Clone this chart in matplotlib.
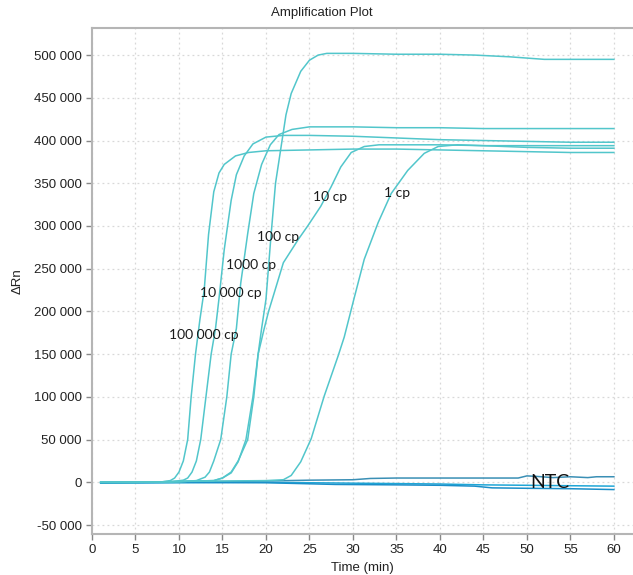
import matplotlib.pyplot as plt
from matplotlib.ticker import FuncFormatter, MultipleLocator

# amplification curves (time in min, delta Rn)
t_100000 = [1, 5, 8, 9, 9.5, 10, 10.5, 11, 11.4, 11.9, 12.4, 12.9, 13.4, 14.0, 14.6, 15.2, 16.5, 18, 20, 25, 30, 35, 40, 45, 50, 55, 60]
rn_100000 = [0, 0, 500, 2000, 5000, 12000, 25000, 50000, 100000, 150000, 190000, 225000, 290000, 340000, 362000, 372000, 382000, 386000, 388000, 389000, 390000, 390000, 389000, 388000, 387000, 386000, 386000]

t_10000 = [1, 5, 9, 10.5, 11, 11.5, 12, 12.5, 13.1, 13.7, 14.2, 14.6, 15.2, 16.0, 16.6, 17.5, 18.5, 20, 22, 25, 30, 35, 40, 45, 50, 55, 60]
rn_10000 = [0, 0, 500, 2500, 5000, 12000, 25000, 50000, 100000, 150000, 180000, 215000, 272000, 330000, 360000, 382000, 396000, 404000, 406000, 406000, 405000, 403000, 401000, 400000, 399000, 398000, 398000]

t_1000 = [1, 5, 10, 12, 13, 13.5, 14, 14.8, 15.5, 16.0, 16.6, 17.1, 17.9, 18.6, 19.5, 20.5, 21.5, 23, 25, 30, 35, 40, 45, 50, 55, 60]
rn_1000 = [0, 0, 500, 2000, 6000, 12000, 25000, 50000, 100000, 150000, 180000, 233000, 291000, 338000, 372000, 395000, 407000, 413000, 416000, 416000, 415000, 415000, 414000, 414000, 414000, 414000]

t_100 = [1, 5, 10, 14, 15, 16, 16.8, 17.9, 18.6, 19.1, 19.5, 20.0, 20.6, 21.1, 21.7, 22.3, 22.9, 24.0, 25.0, 26, 27, 30, 35, 40, 44, 48, 52, 56, 60]
rn_100 = [0, 0, 1000, 2000, 5000, 12000, 25000, 50000, 100000, 150000, 180000, 214000, 291000, 350000, 390000, 430000, 455000, 481000, 494000, 500000, 502000, 502000, 501000, 501000, 500000, 498000, 495000, 495000, 495000]

t_10 = [1, 5, 10, 14, 15, 16, 16.8, 17.7, 18.5, 19.1, 19.8, 20.3, 20.9, 22.0, 23.7, 24.8, 26.3, 27.5, 28.6, 29.8, 31.3, 33, 35, 40, 45, 50, 55, 60]
rn_10 = [0, 0, 1000, 2000, 5000, 11000, 24000, 50000, 100000, 150000, 180000, 200000, 220000, 257000, 284000, 300000, 323000, 346000, 369000, 386000, 393000, 395000, 395000, 395000, 394000, 394000, 394000, 394000]

t_1 = [1, 5, 10, 15, 20, 22, 22.9, 24, 25.2, 26.7, 28.3, 29, 30.1, 31.3, 32.9, 34.4, 36.3, 38.2, 39.8, 42, 45, 50, 55, 60]
rn_1 = [0, 0, 1000, 1500, 2000, 3000, 8000, 24000, 51000, 101000, 148000, 170000, 214000, 261000, 304000, 338000, 365000, 385000, 393000, 395000, 394000, 392000, 391000, 391000]

# no template controls
t_ntc1 = [1, 10, 20, 25, 30, 32, 35, 40, 45, 49, 50, 51, 53, 55, 57, 58, 60]
rn_ntc1 = [0, 500, 1500, 2500, 3000, 4500, 5000, 5000, 5000, 5000, 7500, 7000, 5500, 6500, 5500, 6500, 6500]
t_ntc2 = [1, 10, 20, 30, 40, 45, 50, 55, 60]
rn_ntc2 = [-1000, -500, 0, -1000, -2000, -3000, -3500, -4000, -4500]
t_ntc3 = [1, 10, 20, 28, 35, 40, 44, 46, 50, 55, 60]
rn_ntc3 = [-500, 0, -500, -2500, -3000, -3500, -4500, -6500, -7000, -7500, -8500]

curves = [(t_100000, rn_100000), (t_10000, rn_10000), (t_1000, rn_1000),
          (t_100, rn_100), (t_10, rn_10), (t_1, rn_1)]
ntcs = [(t_ntc1, rn_ntc1, "#3a8fb5"), (t_ntc2, rn_ntc2, "#1fa6d6"), (t_ntc3, rn_ntc3, "#1b8fc9")]

labels = ["100 000 cp", "10 000 cp", "1000 cp", "100 cp", "10 cp", "1 cp"]
label_pos = [(12.8, 172000), (16.0, 222000), (18.3, 254000), (21.4, 287000), (27.4, 334000), (35.1, 339000)]

plt.rcParams['font.family'] = ['Liberation Sans', 'DejaVu Sans']

fig = plt.figure(figsize=(6.33, 5.75), dpi=100)
ax = fig.add_axes([92 / 633, 41 / 575, 541 / 633, 506 / 575])

curve_color = "#52c6cb"
for t, rn, c in ntcs:
    ax.plot(t, rn, color=c, lw=1.1)
for t, rn in curves:
    ax.plot(t, rn, color=curve_color, lw=1.1)

for txt, (x, y) in zip(labels, label_pos):
    ax.text(x, y, txt, fontsize=10, family=['Lato', 'DejaVu Sans'], ha='center', va='center', color='#1a1a1a')
ax.text(52.6, 0, "NTC", fontsize=14, family=['Lato', 'DejaVu Sans'], ha='center', va='center', color='#111111')

ax.set_xlim(0, 62.2)
ax.set_ylim(-60500, 531700)
ax.xaxis.set_major_locator(MultipleLocator(5))
ax.yaxis.set_major_locator(MultipleLocator(50000))
ax.yaxis.set_major_formatter(FuncFormatter(lambda v, p: f"{int(v):,}".replace(",", " ")))
ax.set_xticks(range(0, 61, 5))

ax.grid(True, color='#d8d8d8', linestyle=(0, (1.5, 2.5)), lw=0.9)
ax.set_axisbelow(True)
for s in ['top', 'left', 'bottom']:
    ax.spines[s].set_color('#b5b5b5')
    ax.spines[s].set_linewidth(1.5)
ax.spines['right'].set_visible(False)
ax.tick_params(colors='#888888', labelcolor='#222222', labelsize=9.5, length=4, width=1)

ax.set_xlabel("Time (min)", fontsize=9.5, color='#222222')
fig.text(18 / 633, 1 - 281 / 575, "ΔRn", rotation=90, fontsize=9.5, ha='center', va='center', color='#222222')
fig.text(322 / 633, 1 - 13 / 575, "Amplification Plot", fontsize=9.5, ha='center', va='center', color='#222222')

fig.savefig("out.png", dpi=100)
